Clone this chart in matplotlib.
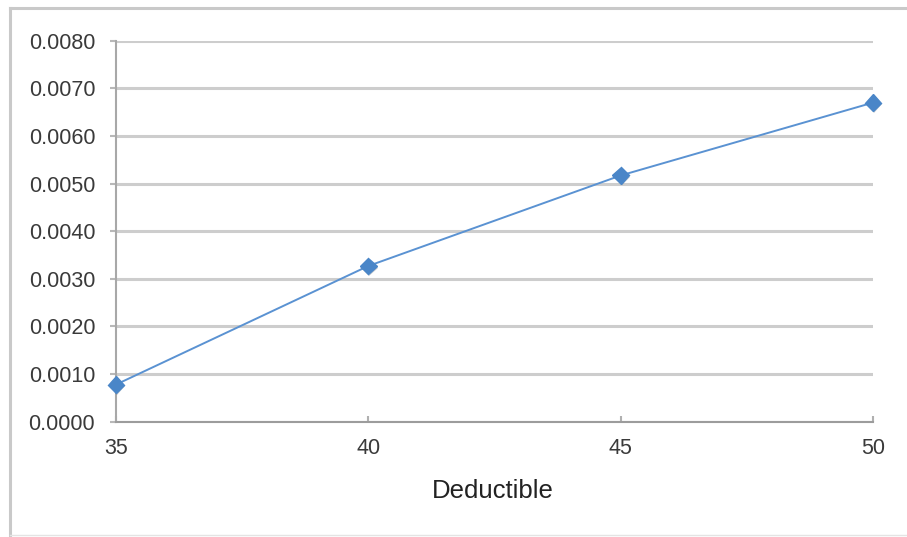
import matplotlib.pyplot as plt
import matplotlib.patheffects as pe
from matplotlib.lines import Line2D
from matplotlib.ticker import FormatStrFormatter

# deductible level vs. value
deductible = [35, 40, 45, 50]
values = [0.00078, 0.00327, 0.00517, 0.00670]
y_ticks = [0.000, 0.001, 0.002, 0.003, 0.004, 0.005, 0.006, 0.007, 0.008]

plt.rcParams['font.family'] = ['Liberation Sans', 'DejaVu Sans']

fig = plt.figure(figsize=(9.07, 5.37), dpi=100)
ax = fig.add_axes([116/907, 1 - 421.7/537, 757/907, 381/537])

# light frame round the whole chart
frame = '#c9c9c9'
fig.add_artist(Line2D([10/907, 1.0], [1 - 8/537, 1 - 8/537], transform=fig.transFigure, color=frame, lw=2.2))
fig.add_artist(Line2D([10/907, 10/907], [1 - 8/537, 1 - 535/537], transform=fig.transFigure, color=frame, lw=2.2))
fig.add_artist(Line2D([10/907, 1.0], [1 - 535/537, 1 - 535/537], transform=fig.transFigure, color='#e4e4e4', lw=1.0))

ax.plot(deductible, values, color='#5A92D2', lw=1.4, zorder=3, clip_on=False)
ax.plot(deductible, values, ls='none', marker='D', ms=8.5, color='#4A86C8',
        mec='#4A86C8', zorder=4, clip_on=False,
        path_effects=[pe.SimplePatchShadow(offset=(0.8, -1.2), alpha=0.25), pe.Normal()])

ax.set_xlim(35, 50)
ax.set_ylim(0, 0.008)
ax.set_xticks(deductible)
ax.set_yticks(y_ticks)
ax.yaxis.set_major_formatter(FormatStrFormatter('%.4f'))

ax.grid(axis='y', color='#cdcdcd', lw=2.2, zorder=0)
ax.set_axisbelow(True)

for s in ['top', 'right']:
    ax.spines[s].set_visible(False)
ax.spines['left'].set_color('#a8a8a8')
ax.spines['left'].set_linewidth(1.5)
ax.spines['bottom'].set_color('#9c9c9c')
ax.spines['bottom'].set_linewidth(1.5)

ax.tick_params(axis='y', direction='out', length=4, width=1.5, color='#b8b8b8',
               pad=11, labelsize=15.5, labelcolor='#3a3a3a')
ax.tick_params(axis='x', direction='in', length=4, width=1.5, color='#b0b0b0',
               pad=12, labelsize=15.5, labelcolor='#3a3a3a')

ax.set_xlabel('Deductible', fontsize=18.5, color='#222222', va='center')
ax.xaxis.set_label_coords(0.498, -0.182)

fig.savefig('out.png', dpi=100)
